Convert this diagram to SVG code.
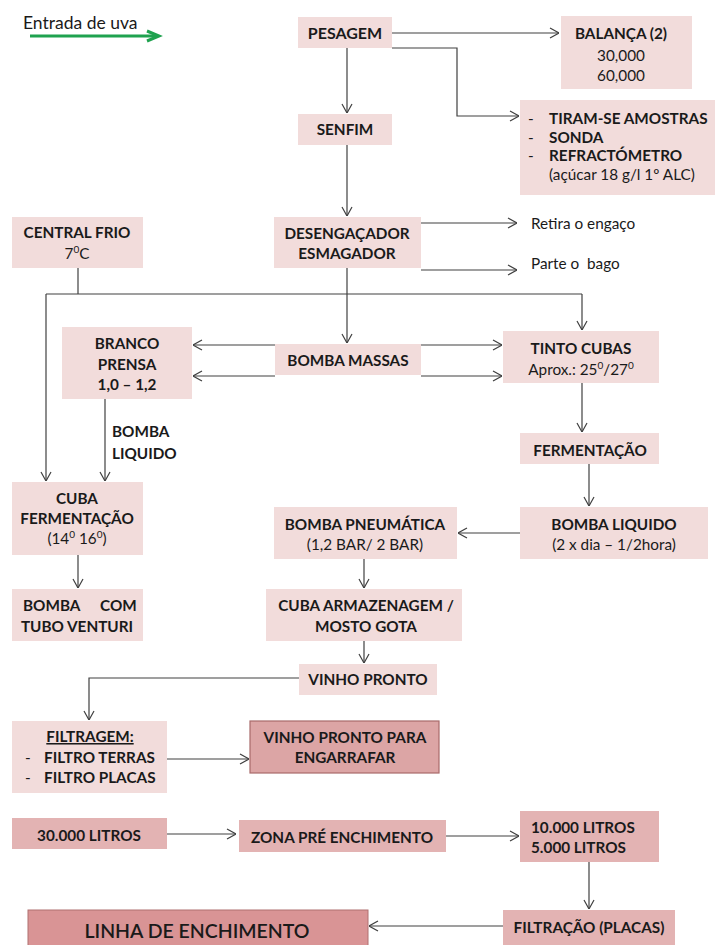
<svg xmlns="http://www.w3.org/2000/svg" width="718" height="945" viewBox="0 0 718 945">
<defs>
<marker id="arr" viewBox="0 0 10 12" refX="10" refY="6" markerWidth="10" markerHeight="12" markerUnits="userSpaceOnUse" orient="auto">
<path d="M1,1 L10,6 L1,11" fill="none" stroke="#404040" stroke-width="1.2"/>
</marker>
<style>
.l{fill:#f2dcdb}
.m{fill:#e3b3b3}
.d{fill:#dca5a5;stroke:#a86a6a;stroke-width:1.2}
.k{fill:#d99495;stroke:#b07070;stroke-width:1}
text{font-family:Lato,"Liberation Sans",sans-serif;font-size:15.3px;fill:#1a1a1a}
.b{font-weight:bold}
.c{text-anchor:middle}
.sup{font-size:10px}
.cn path{fill:none;stroke:#404040;stroke-width:1.2}
</style>
</defs>
<rect width="718" height="945" fill="#ffffff"/>

<g id="entrada">
<text x="23" y="29" style="font-size:17.5px">Entrada de uva</text>
<path d="M30,36 H157" stroke="#1fa24f" stroke-width="3" fill="none"/>
<path d="M147,31 L159,36 L147,41" stroke="#1fa24f" stroke-width="3" fill="none"/>
</g>

<g class="cn">
<path d="M392,33 H559" marker-end="url(#arr)"/>
<path d="M392,48 H457 V116 H519" marker-end="url(#arr)"/>
<path d="M347,48 V113" marker-end="url(#arr)"/>
<path d="M347,145 V216" marker-end="url(#arr)"/>
<path d="M421,223 H517" marker-end="url(#arr)"/>
<path d="M421,270 H517" marker-end="url(#arr)"/>
<path d="M78,268 V294"/>
<path d="M46,294 H582"/>
<path d="M46,294 V481" marker-end="url(#arr)"/>
<path d="M582,294 V330" marker-end="url(#arr)"/>
<path d="M347,268 V343" marker-end="url(#arr)"/>
<path d="M275,345 H193" marker-end="url(#arr)"/>
<path d="M275,376 H193" marker-end="url(#arr)"/>
<path d="M421,345 H502" marker-end="url(#arr)"/>
<path d="M421,376 H502" marker-end="url(#arr)"/>
<path d="M105,399 V481" marker-end="url(#arr)"/>
<path d="M582,383 V432" marker-end="url(#arr)"/>
<path d="M589,464 V506" marker-end="url(#arr)"/>
<path d="M520,533 H458" marker-end="url(#arr)"/>
<path d="M364,559 V588" marker-end="url(#arr)"/>
<path d="M78,555 V588" marker-end="url(#arr)"/>
<path d="M364,641 V663" marker-end="url(#arr)"/>
<path d="M299,678 H89 V720" marker-end="url(#arr)"/>
<path d="M167,759 H249" marker-end="url(#arr)"/>
<path d="M167,834 H236" marker-end="url(#arr)"/>
<path d="M446,836 H519" marker-end="url(#arr)"/>
<path d="M589,862 V909" marker-end="url(#arr)"/>
<path d="M503,926 H369" marker-end="url(#arr)"/>
</g>

<g id="pesagem"><rect class="l" x="298" y="17" width="94" height="31"/><text class="b c" x="345" y="38.5" style="font-size:16px">PESAGEM</text></g>

<g id="balanca"><rect class="l" x="561" y="16" width="131" height="73"/>
<text class="b c" x="621" y="39">BALANÇA (2)</text>
<text class="c" x="621" y="61">30,000</text>
<text class="c" x="621" y="81">60,000</text></g>

<g id="amostras"><rect class="l" x="520" y="100" width="195" height="95"/>
<text x="528" y="123.5">-</text><text class="b" x="549" y="123.5">TIRAM-SE AMOSTRAS</text>
<text x="528" y="142.5">-</text><text class="b" x="549" y="142.5">SONDA</text>
<text x="528" y="161">-</text><text class="b" x="549" y="161">REFRACTÓMETRO</text>
<text x="549" y="180">(açúcar 18 g/l 1º ALC)</text></g>

<g id="senfim"><rect class="l" x="298" y="114" width="94" height="31"/><text class="b c" x="345" y="135">SENFIM</text></g>

<g id="desengacador"><rect class="l" x="274" y="217" width="147" height="51"/>
<text class="b c" x="347" y="238.5">DESENGAÇADOR</text>
<text class="b c" x="347" y="258.5">ESMAGADOR</text></g>

<g id="retira"><text x="531" y="228.5">Retira o engaço</text></g>
<g id="parte"><text x="531" y="269" xml:space="preserve">Parte o  bago</text></g>

<g id="central-frio"><rect class="l" x="12" y="217" width="131" height="51"/>
<text class="b c" x="77" y="238">CENTRAL FRIO</text>
<text class="c" x="77" y="259">7<tspan class="sup" dy="-6">0</tspan><tspan dy="6">C</tspan></text></g>

<g id="branco-prensa"><rect class="l" x="62" y="327" width="130" height="72"/>
<text class="b c" x="127" y="349">BRANCO</text>
<text class="b c" x="127" y="370">PRENSA</text>
<text class="b c" x="127" y="390">1,0 – 1,2</text></g>

<g id="bomba-massas"><rect class="l" x="275" y="344" width="146" height="31"/><text class="b c" x="348" y="366">BOMBA MASSAS</text></g>

<g id="tinto-cubas"><rect class="l" x="503" y="331" width="156" height="52"/>
<text class="b c" x="581" y="354">TINTO CUBAS</text>
<text class="c" x="581" y="375">Aprox.: 25<tspan class="sup" dy="-6">0</tspan><tspan dy="6">/27</tspan><tspan class="sup" dy="-6">0</tspan></text></g>

<g id="bomba-liquido-label">
<text class="b" x="112" y="437">BOMBA</text>
<text class="b" x="112" y="459">LIQUIDO</text></g>

<g id="cuba-fermentacao"><rect class="l" x="12" y="482" width="131" height="73"/>
<text class="b c" x="77" y="504">CUBA</text>
<text class="b c" x="77" y="524">FERMENTAÇÃO</text>
<text class="c" x="77" y="544">(14<tspan class="sup" dy="-6">0</tspan><tspan dy="6"> 16</tspan><tspan class="sup" dy="-6">0</tspan><tspan dy="6">)</tspan></text></g>

<g id="bomba-venturi"><rect class="l" x="12" y="589" width="131" height="52"/>
<text class="b" x="23" y="611">BOMBA</text><text class="b" x="100" y="611">COM</text>
<text class="b c" x="77" y="632">TUBO VENTURI</text></g>

<g id="fermentacao"><rect class="l" x="520" y="433" width="139" height="31"/><text class="b c" x="590" y="456">FERMENTAÇÃO</text></g>

<g id="bomba-liquido"><rect class="l" x="520" y="507" width="188" height="52"/>
<text class="b c" x="614" y="530">BOMBA LIQUIDO</text>
<text class="c" x="614" y="550">(2 x dia – 1/2hora)</text></g>

<g id="bomba-pneumatica"><rect class="l" x="274" y="507" width="183" height="52"/>
<text class="b c" x="365" y="530">BOMBA PNEUMÁTICA</text>
<text class="c" x="365" y="550">(1,2 BAR/ 2 BAR)</text></g>

<g id="cuba-armazenagem"><rect class="l" x="266" y="589" width="196" height="52"/>
<text class="b c" x="366" y="611">CUBA ARMAZENAGEM /</text>
<text class="b c" x="366" y="632">MOSTO GOTA</text></g>

<g id="vinho-pronto"><rect class="l" x="299" y="664" width="138" height="31"/><text class="b c" x="368" y="685">VINHO PRONTO</text></g>

<g id="filtragem"><rect class="l" x="12" y="721" width="155" height="72"/>
<text class="b c" x="90" y="742" text-decoration="underline">FILTRAGEM:</text>
<text x="25" y="763">-</text><text class="b" x="44" y="763">FILTRO TERRAS</text>
<text x="25" y="783">-</text><text class="b" x="44" y="783">FILTRO PLACAS</text></g>

<g id="vinho-engarrafar"><rect class="d" x="250" y="721" width="189" height="52"/>
<text class="b c" x="345" y="743">VINHO PRONTO PARA</text>
<text class="b c" x="345" y="763">ENGARRAFAR</text></g>

<g id="litros-30000"><rect class="m" x="12" y="818" width="155" height="31"/><text class="b c" x="89" y="841">30.000  LITROS</text></g>

<g id="zona"><rect class="m" x="239" y="820" width="207" height="32"/><text class="b c" x="342" y="843">ZONA PRÉ ENCHIMENTO</text></g>

<g id="litros-10000"><rect class="m" x="520" y="811" width="139" height="51"/>
<text class="b" x="531" y="833">10.000 LITROS</text>
<text class="b" x="531" y="853">5.000 LITROS</text></g>

<g id="filtracao"><rect class="m" x="503" y="910" width="172" height="35"/><text class="b c" x="589" y="933">FILTRAÇÃO (PLACAS)</text></g>

<g id="linha"><rect class="k" x="28" y="910" width="340" height="40"/><text class="c" x="197" y="938" style="font-size:19.5px;font-weight:600">LINHA DE ENCHIMENTO</text></g>
</svg>
